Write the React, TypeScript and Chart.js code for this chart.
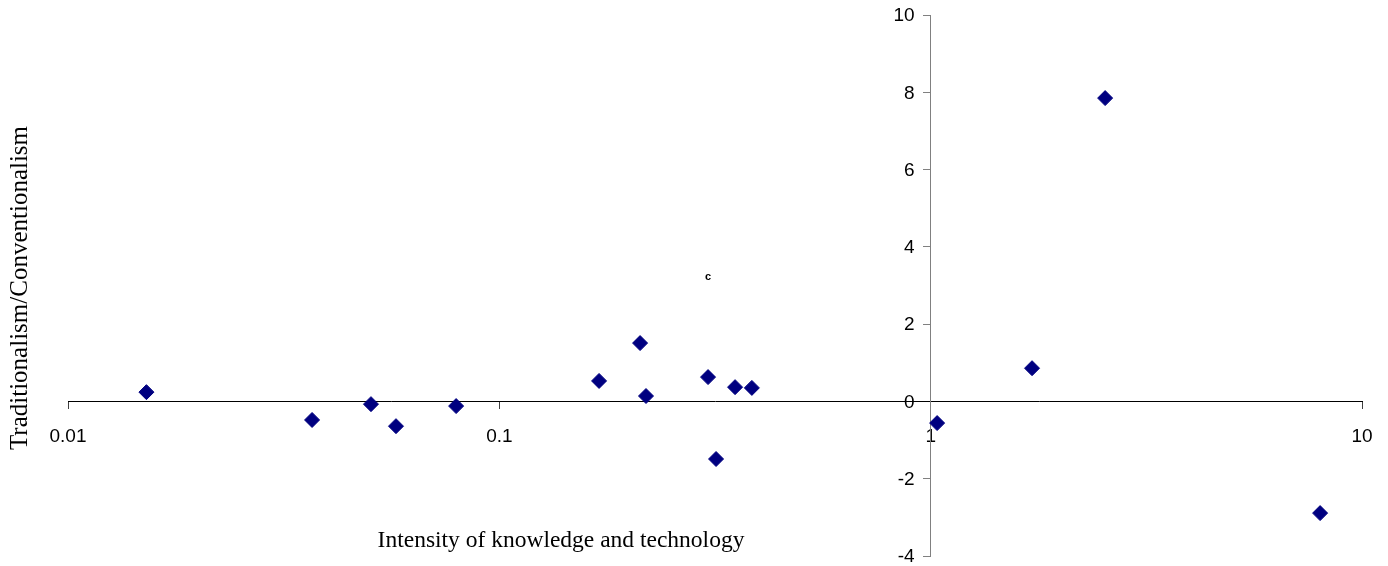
import React, { useEffect, useRef } from "react";
import { Chart, registerables } from "chart.js";

Chart.register(...registerables);

const xValues = [0.0152, 0.0368, 0.0504, 0.0576, 0.0794, 0.1703, 0.212, 0.2188, 0.3047, 0.318, 0.352, 0.385, 1.035, 1.718, 2.538, 7.996];
const yValues = [0.24, -0.48, -0.07, -0.64, -0.12, 0.53, 1.51, 0.14, 0.63, -1.49, 0.37, 0.35, -0.56, 0.86, 7.85, -2.89];

const xTicks = [0.01, 0.1, 1, 10];
const xTickLabels = ["0.01", "0.1", "1", "10"];
const yTicks = [-4, -2, 0, 2, 4, 6, 8, 10];
const yCrossAt = 1;

const noteX = [0.3047];
const noteY = [3.22];
const noteText = ["c"];

const xTitle = "Intensity of knowledge and technology";
const yTitle = "Traditionalism/Conventionalism";

const overlayPlugin = {
  id: "overlay",
  afterDraw(chart: any) {
    const ctx = chart.ctx;
    const xs = chart.scales.x;
    const ys = chart.scales.y;
    ctx.save();
    // y tick labels, placed left of the crossing y axis
    ctx.fillStyle = "#000000";
    ctx.font = "19px 'Liberation Sans', Arial, sans-serif";
    ctx.textAlign = "right";
    ctx.textBaseline = "middle";
    const axisX = xs.getPixelForValue(yCrossAt);
    yTicks.forEach((v) => {
      ctx.fillText(String(v), axisX - 16, ys.getPixelForValue(v) + 1);
    });
    // annotation
    ctx.font = "bold 11px 'Liberation Sans', Arial, sans-serif";
    ctx.textAlign = "center";
    noteText.forEach((t, i) => {
      ctx.fillText(t, xs.getPixelForValue(noteX[i]), ys.getPixelForValue(noteY[i]));
    });
    // axis titles
    ctx.font = "23.5px 'Liberation Serif', 'Times New Roman', serif";
    ctx.fillText(xTitle, 561, 541);
    ctx.font = "25px 'Liberation Serif', 'Times New Roman', serif";
    ctx.translate(20, 288);
    ctx.rotate(-Math.PI / 2);
    ctx.fillText(yTitle, 0, 0);
    ctx.restore();
  },
};

export default function App() {
  const ref = useRef<HTMLCanvasElement>(null);
  useEffect(() => {
    if (!ref.current) return;
    const chart = new Chart(ref.current, {
      type: "scatter",
      data: {
        datasets: [
          {
            data: xValues.map((x, i) => ({ x, y: yValues[i] })),
            pointStyle: "rectRot",
            pointRadius: 7.5,
            pointBorderWidth: 1,
            backgroundColor: "#000080",
            borderColor: "#000080",
          },
        ],
      },
      options: {
        responsive: false,
        animation: false,
        layout: { padding: { left: 68, right: 26, top: 15, bottom: 10 } },
        plugins: { legend: { display: false }, tooltip: { enabled: false } },
        scales: {
          x: {
            type: "logarithmic",
            position: { y: 0 },
            min: 0.01,
            max: 10,
            afterBuildTicks: (scale: any) => {
              scale.ticks = xTicks.map((v) => ({ value: v }));
            },
            afterFit: (scale: any) => {
              scale.paddingLeft = 0;
              scale.paddingRight = 0;
              scale.paddingTop = 0;
              scale.paddingBottom = 0;
            },
            ticks: {
              autoSkip: false,
              maxRotation: 0,
              padding: 17,
              color: "#000000",
              font: { family: "'Liberation Sans', Arial, sans-serif", size: 19 },
              callback: (v: any) => {
                const i = xTicks.indexOf(Number(v));
                return i >= 0 ? xTickLabels[i] : "";
              },
            },
            grid: { drawOnChartArea: false, drawTicks: true, tickLength: 7, color: "#404040" },
            border: { color: "#000000", width: 1 },
          },
          y: {
            type: "linear",
            position: { x: yCrossAt },
            min: -4,
            max: 10,
            afterBuildTicks: (scale: any) => {
              scale.ticks = yTicks.map((v) => ({ value: v }));
            },
            afterFit: (scale: any) => {
              scale.paddingLeft = 0;
              scale.paddingRight = 0;
              scale.paddingTop = 0;
              scale.paddingBottom = 0;
            },
            ticks: { display: false },
            grid: { drawOnChartArea: false, drawTicks: true, tickLength: 7, color: "#808080" },
            border: { color: "#808080", width: 1 },
          },
        },
      },
      plugins: [overlayPlugin],
    });
    return () => chart.destroy();
  }, []);
  return (
    <div style={{ position: "fixed", left: 0, top: 0, width: 1388, height: 566, background: "#fff" }}>
      <canvas ref={ref} width={1388} height={566} />
    </div>
  );
}
